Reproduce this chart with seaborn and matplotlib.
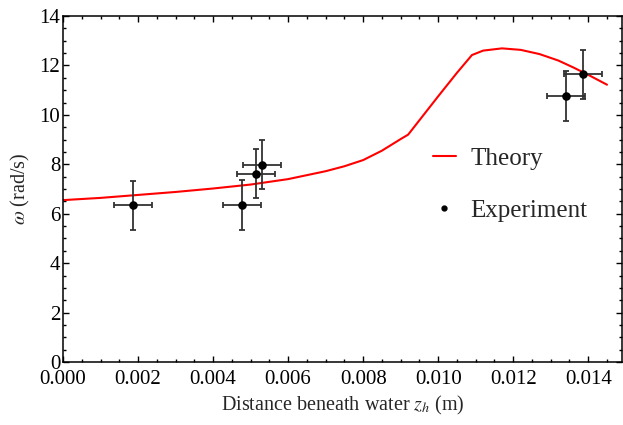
import numpy as np
import pandas as pd
import matplotlib
matplotlib.use("Agg")
import matplotlib.pyplot as plt
from matplotlib.ticker import MultipleLocator, FormatStrFormatter
from matplotlib.lines import Line2D
import seaborn as sns

# Theoretical angular velocity vs. depth
theory_z = [0.0, 0.001, 0.002, 0.003, 0.004, 0.005, 0.006, 0.007, 0.0075,
            0.008, 0.0085, 0.009, 0.0092, 0.0100, 0.0105, 0.0109, 0.0112,
            0.0117, 0.0122, 0.0127, 0.0132, 0.0136, 0.0140, 0.0145]
theory_w = [6.55, 6.64, 6.76, 6.88, 7.02, 7.18, 7.40, 7.72, 7.92,
            8.17, 8.55, 9.02, 9.20, 10.75, 11.70, 12.42, 12.60,
            12.69, 12.63, 12.46, 12.20, 11.92, 11.62, 11.22]

# Measured points with uncertainties
exp_z = [0.00186, 0.00477, 0.00515, 0.00531, 0.01341, 0.01386]
exp_w = [6.34, 6.35, 7.62, 7.98, 10.76, 11.64]
exp_zerr = [0.0005, 0.0005, 0.0005, 0.0005, 0.0005, 0.0005]
exp_werr = [1.0, 1.0, 1.0, 1.0, 1.0, 1.0]

x_ticks = [0.000, 0.002, 0.004, 0.006, 0.008, 0.010, 0.012, 0.014]
y_ticks = [0, 2, 4, 6, 8, 10, 12, 14]

sns.set_style("ticks")
plt.rcParams["font.family"] = ["Liberation Serif", "DejaVu Serif"]
plt.rcParams["mathtext.fontset"] = "stix"

theory = pd.DataFrame({"z": theory_z, "w": theory_w})
experiment = pd.DataFrame({"z": exp_z, "w": exp_w})

fig = plt.figure(figsize=(6.23, 4.25), dpi=100)
ax = fig.add_axes([63 / 623, 1 - 362 / 425, (622 - 63) / 623, (362 - 16) / 425])

sns.lineplot(data=theory, x="z", y="w", ax=ax, color="#ff0000", linewidth=1.5,
             legend=False)
ax.errorbar(exp_z, exp_w, xerr=exp_zerr, yerr=exp_werr, fmt="none",
            ecolor="#333333", elinewidth=1.3, capsize=2.5, capthick=1.3, zorder=3)
sns.scatterplot(data=experiment, x="z", y="w", ax=ax, color="black", s=38,
                edgecolor="black", linewidth=0, zorder=4, legend=False)

ax.set_xlim(0, 0.01490)
ax.set_ylim(0, 14)
ax.set_xticks(x_ticks)
ax.set_yticks(y_ticks)
ax.xaxis.set_major_formatter(FormatStrFormatter("%.3f"))
ax.xaxis.set_minor_locator(MultipleLocator(0.0005))
ax.yaxis.set_minor_locator(MultipleLocator(0.5))
ax.tick_params(which="both", direction="in", top=True, right=True,
               labelsize=15, colors="black", width=1.0, pad=2)
ax.tick_params(axis="x", which="both", pad=6)
ax.tick_params(which="major", length=4)
ax.tick_params(which="minor", length=2.3)
for s in ax.spines.values():
    s.set_linewidth(1.1)
    s.set_color("black")

ax.set_xlabel(r"Distance beneath water $z_h$ (m)", fontsize=14.5, labelpad=3)
ax.set_ylabel(r"$\omega$ (rad/s)", fontsize=14.5, labelpad=5)

handles = [
    Line2D([], [], color="#ff0000", linewidth=1.5),
    Line2D([], [], color="black", marker="o", linestyle="none", markersize=3.5),
]
ax.legend(handles, ["Theory", "Experiment"], loc="center left",
          bbox_to_anchor=(0.662, 0.513), frameon=False, fontsize=18,
          handlelength=0.9, handletextpad=0.6, labelspacing=1.2,
          borderpad=0, borderaxespad=0)

fig.savefig("out.png", dpi=100)
